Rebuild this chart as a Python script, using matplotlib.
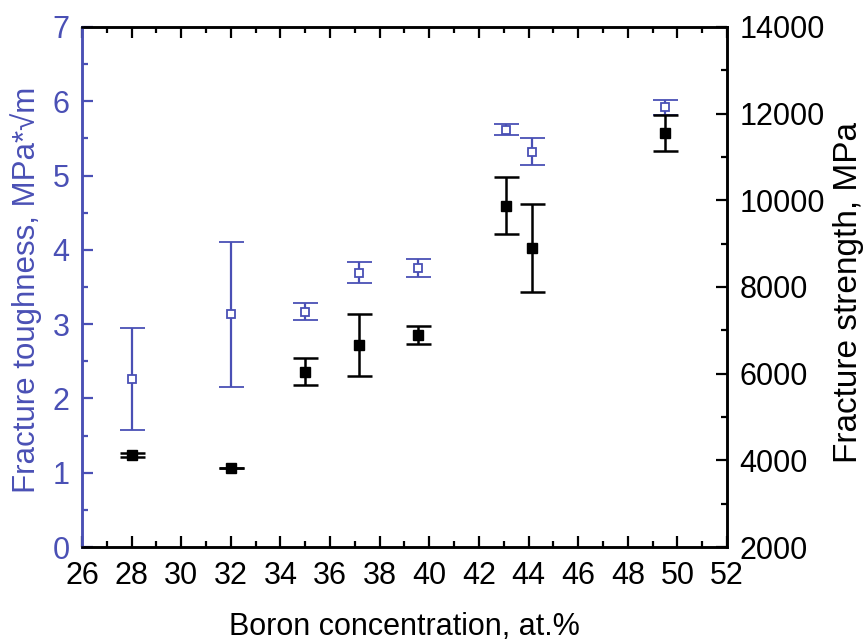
import matplotlib
matplotlib.use("Agg")
import matplotlib.pyplot as plt
from matplotlib.ticker import MultipleLocator

plt.rcParams['font.family'] = ['Liberation Sans', 'DejaVu Sans']

blue = '#4a50b5'

# Boron content, at.%
boron_k = [28.0, 32.0, 35.0, 37.15, 39.55, 43.1, 44.15, 49.5]
toughness = [2.26, 3.13, 3.17, 3.69, 3.76, 5.62, 5.32, 5.92]
toughness_err = [0.69, 0.97, 0.11, 0.14, 0.12, 0.08, 0.18, 0.10]

boron_s = [28.0, 32.0, 35.0, 37.15, 39.55, 43.1, 44.15, 49.5]
strength = [4120, 3820, 6050, 6660, 6900, 9880, 8890, 11560]
strength_err = [40, 0, 320, 710, 210, 650, 1015, 420]

xticks = list(range(26, 53, 2))

fig = plt.figure(figsize=(8.67, 6.44), dpi=100)
ax = fig.add_axes([0.0946, 0.1506, 0.7439, 0.8075])
ax2 = ax.twinx()

ax.errorbar(boron_k, toughness, yerr=toughness_err, fmt='s', ms=6,
            mfc='white', mec=blue, mew=1.3, ecolor=blue, elinewidth=1.6,
            capsize=9, capthick=1.6, zorder=3)
ax2.errorbar(boron_s, strength, yerr=strength_err, fmt='s', ms=7,
             color='black', ecolor='black', elinewidth=1.8,
             capsize=9, capthick=1.8, zorder=3)

ax.set_xlim(26, 52)
ax.set_ylim(0, 7)
ax2.set_ylim(2000, 14000)

ax.set_xticks(xticks)
ax.xaxis.set_minor_locator(MultipleLocator(1))
ax.yaxis.set_major_locator(MultipleLocator(1))
ax.yaxis.set_minor_locator(MultipleLocator(0.5))
ax2.yaxis.set_major_locator(MultipleLocator(2000))
ax2.yaxis.set_minor_locator(MultipleLocator(1000))

ax.tick_params(axis='x', which='both', direction='in', top=True,
               labelsize=22, pad=10, width=1.6, color='black')
ax.tick_params(axis='x', which='major', length=8)
ax.tick_params(axis='x', which='minor', length=4.5)
ax.tick_params(axis='y', which='both', direction='in', colors=blue,
               labelsize=22, pad=9, width=1.6)
ax.tick_params(axis='y', which='major', length=8)
ax.tick_params(axis='y', which='minor', length=4.5)
ax2.tick_params(axis='y', which='both', direction='in', labelsize=22,
                pad=9, width=1.6)
ax2.tick_params(axis='y', which='major', length=8)
ax2.tick_params(axis='y', which='minor', length=4.5)

for a in (ax, ax2):
    for s in a.spines.values():
        s.set_linewidth(1.8)
ax2.spines['left'].set_color(blue)
ax.spines['left'].set_color(blue)

ax.set_xlabel('Boron concentration, at.%', fontsize=22)
ax.set_ylabel('Fracture toughness, MPa*\u221am', fontsize=22.5, color=blue)
ax2.set_ylabel('Fracture strength, MPa', fontsize=24)
ax.xaxis.set_label_coords(0.5, -0.125)
ax.yaxis.set_label_coords(-0.062, 0.495)
ax2.yaxis.set_label_coords(1.165, 0.49)

fig.savefig('out.png', dpi=100)
